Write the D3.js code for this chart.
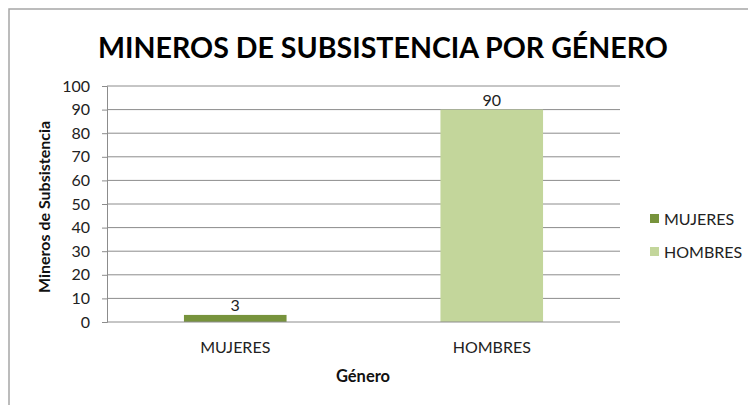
<!DOCTYPE html>
<html><head><meta charset="utf-8">
<script src="https://cdn.jsdelivr.net/npm/d3@7/dist/d3.min.js"></script>
<style>body{margin:0;background:#fff}svg{display:block}text{font-family:Lato,"Open Sans",sans-serif}</style>
</head><body><svg id="c" width="748" height="405"></svg>
<script>
const categories = ["MUJERES", "HOMBRES"];
const values = [3, 90];
const colors = ["#77933C", "#C3D69B"];
const yTicks = [0,10,20,30,40,50,60,70,80,90,100];
const title = "MINEROS DE SUBSISTENCIA POR GÉNERO";
const yTitle = "Mineros de Subsistencia";
const xTitle = "Género";

const svg = d3.select("#c");
svg.append("rect").attr("x",9).attr("y",9).attr("width",800).attr("height",500)
  .attr("fill","#fff").attr("stroke","#a6a6a6").attr("stroke-width",1.5);

const m = {l:107, r:620, t:86, b:322};
const x = d3.scaleBand().domain(categories).range([m.l, m.r]).paddingInner(0.6).paddingOuter(0.3);
const y = d3.scaleLinear().domain([0,100]).range([m.b, m.t]);

// gridlines
svg.append("g").selectAll("line").data(yTicks.filter(d=>d>0)).join("line")
  .attr("x1",m.l).attr("x2",m.r).attr("y1",d=>y(d)).attr("y2",d=>y(d))
  .attr("stroke","#8c8c8c").attr("stroke-width",1);

// y axis
const ya = svg.append("g").attr("transform",`translate(${m.l},0)`)
  .call(d3.axisLeft(y).tickValues(yTicks).tickSize(5).tickPadding(12));
ya.select(".domain").attr("stroke","#8c8c8c");
ya.selectAll(".tick line").attr("stroke","#8c8c8c");
ya.selectAll("text").attr("font-size",16).attr("fill","#222").style("font-family","Lato,sans-serif");

// bars
svg.append("g").selectAll("rect").data(values).join("rect")
  .attr("x",(d,i)=>x(categories[i])).attr("width",x.bandwidth())
  .attr("y",d=>y(d)).attr("height",d=>y(0)-y(d))
  .attr("fill",(d,i)=>colors[i]);

// x axis
svg.append("line").attr("x1",m.l).attr("x2",m.r).attr("y1",y(0)).attr("y2",y(0)).attr("stroke","#8c8c8c");
const xa = svg.append("g").attr("transform",`translate(0,${y(0)})`)
  .call(d3.axisBottom(x).tickSize(0).tickPadding(20));
xa.select(".domain").remove();
xa.selectAll("text").attr("font-size",16).attr("fill","#222").style("font-family","Lato,sans-serif");

// data labels
svg.append("g").selectAll("text").data(values).join("text")
  .attr("x",(d,i)=>x(categories[i])+x.bandwidth()/2).attr("y",d=>y(d)-4)
  .attr("text-anchor","middle").attr("font-size",16).attr("fill","#222").text(d=>d);

// titles
const t = svg.append("text").attr("x",383).attr("y",58).attr("text-anchor","middle")
  .attr("font-size",33).attr("font-weight","bold").attr("fill","#000").text(title);
const w = t.node().getComputedTextLength();
t.attr("font-size", 33*570/w);
svg.append("text").attr("transform","translate(50,207) rotate(-90)").attr("text-anchor","middle")
  .attr("font-size",16).attr("font-weight","bold").attr("fill","#111").text(yTitle);
svg.append("text").attr("x",363).attr("y",382).attr("text-anchor","middle")
  .attr("font-size",16.5).attr("font-weight","bold").attr("fill","#111").text(xTitle);

// legend
const lg = svg.append("g").selectAll("g").data(categories).join("g")
  .attr("transform",(d,i)=>`translate(650,${219+i*33})`);
lg.append("rect").attr("x",0).attr("y",-5).attr("width",9).attr("height",9).attr("fill",(d,i)=>colors[i]);
lg.append("text").attr("x",14).attr("y",5.5).attr("font-size",16).attr("fill","#222").text(d=>d);
</script></body></html>
